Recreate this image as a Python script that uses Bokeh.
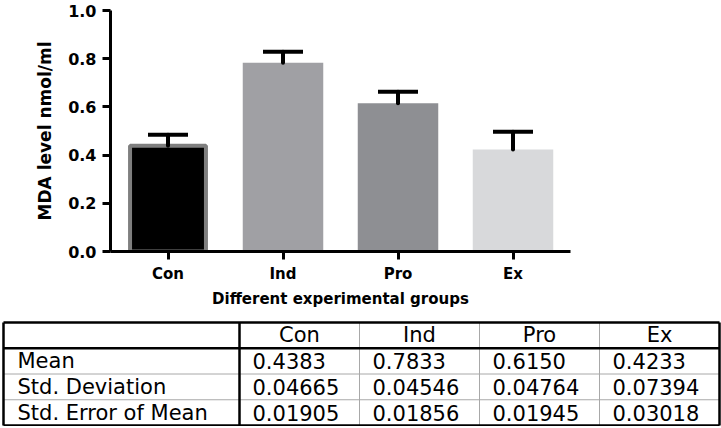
from bokeh.plotting import figure
from bokeh.models import (ColumnDataSource, Whisker, TeeHead, FactorRange, Range1d,
                          FixedTicker, NumeralTickFormatter)
from bokeh.layouts import column
from bokeh.embed import file_html
from bokeh.resources import INLINE
from bokeh.core.properties import value

# ---------------- data ----------------
groups = ["Con", "Ind", "Pro", "Ex"]
means = [0.4383, 0.7833, 0.6150, 0.4233]
std_devs = [0.04665, 0.04546, 0.04764, 0.07394]
std_errs = [0.01905, 0.01856, 0.01945, 0.03018]
y_ticks = [0.0, 0.2, 0.4, 0.6, 0.8, 1.0]
row_labels = ["Mean", "Std. Deviation", "Std. Error of Mean"]
bar_colors = ["#000000", "#a0a0a4", "#8e8f93", "#d8d9db"]
bar_outline = ["#7f7f7f", "#a0a0a4", "#8e8f93", "#d8d9db"]
outline_alpha = [1, 0, 0, 0]
bar_widths = [0.66, 0.7, 0.7, 0.7]

W = 721
H1 = 312
H2 = 114
FONT = "DejaVu Sans"

# ---------------- bar chart ----------------
p = figure(width=W, height=H1,
           x_range=FactorRange(*groups), y_range=Range1d(0, 1),
           output_backend="svg", toolbar_location=None,
           min_border_left=110, min_border_right=151,
           min_border_top=10, min_border_bottom=61)
p.frame_align = False
p.outline_line_color = None
p.xgrid.visible = False
p.ygrid.visible = False

src = ColumnDataSource(dict(
    g=groups, m=means, sd=std_devs,
    upper=[m + s for m, s in zip(means, std_devs)],
    color=bar_colors, lc=bar_outline, la=outline_alpha, w=bar_widths,
))

p.vbar(x="g", top="m", bottom=0, width="w", source=src,
       fill_color="color", line_color="lc", line_alpha="la", line_width=4)

wh = Whisker(source=src, base="g", lower="m", upper="upper", dimension="height",
             line_width=4, line_color="black", line_cap="round",
             lower_head=None,
             upper_head=TeeHead(size=40, line_width=4, line_color="black"),
             level="overlay")
p.add_layout(wh)

for ax in (p.xaxis, p.yaxis):
    ax.axis_line_width = 3
    ax.axis_line_color = "black"
    ax.major_tick_line_width = 3
    ax.major_tick_line_color = "black"
    ax.major_tick_in = 0
    ax.major_tick_out = 8
    ax.minor_tick_line_color = None
    ax.major_label_text_font = FONT
    ax.major_label_text_font_style = "bold"
    ax.major_label_text_color = "black"
    ax.axis_label_text_font = FONT
    ax.axis_label_text_font_style = "bold"
    ax.axis_label_text_color = "black"

p.yaxis.ticker = FixedTicker(ticks=y_ticks)
p.yaxis.formatter = NumeralTickFormatter(format="0.0")
p.yaxis.major_label_text_font_size = "16px"
p.yaxis.major_label_standoff = 6
p.yaxis.axis_label = "MDA level nmol/ml"
p.yaxis.axis_label_text_font_size = "17px"
p.yaxis.axis_label_standoff = 10

p.xaxis.major_label_text_font_size = "15px"
p.xaxis.major_label_standoff = 5
p.xaxis.axis_label = "Different experimental groups"
p.xaxis.axis_label_text_font_size = "15px"
p.xaxis.axis_label_standoff = 4

# ---------------- statistics table ----------------
t = figure(width=W, height=H2, x_range=Range1d(0, W), y_range=Range1d(H2, 0),
           output_backend="svg", toolbar_location=None, min_border=0,
           x_axis_type=None, y_axis_type=None)
t.frame_align = False
t.outline_line_color = None
t.xgrid.visible = False
t.ygrid.visible = False

left = 3
first_w = 236
col_w = 120
top = 10
row_h = 25.75
x_edges = [left, left + first_w] + [left + first_w + col_w * (i + 1) for i in range(len(groups))]
y_edges = [top + row_h * i for i in range(len(row_labels) + 2)]
right = x_edges[-1]
bottom = y_edges[-1]

# thin grey separators
t.segment(x0=x_edges[2:-1], y0=[top] * 3, x1=x_edges[2:-1], y1=[bottom] * 3,
          line_color="#a8a8a8", line_width=1)
t.segment(x0=[left] * 2, y0=y_edges[2:4], x1=[right] * 2, y1=y_edges[2:4],
          line_color="#a8a8a8", line_width=1)
# thick black lines
t.segment(x0=[left, left, left, left, right, x_edges[1]],
          y0=[top, bottom, y_edges[1], top, top, top],
          x1=[right, right, right, left, right, x_edges[1]],
          y1=[top, bottom, y_edges[1], bottom, bottom, bottom],
          line_color="black", line_width=2.5)

col_centers = [(x_edges[i + 1] + x_edges[i + 2]) / 2 for i in range(len(groups))]
FS = "21px"

t.text(x=col_centers, y=[(y_edges[0] + y_edges[1]) / 2] * len(groups),
       text=groups, text_align="center", text_baseline="middle",
       text_font=value(FONT), text_font_size=FS, text_color="black")

row_y = [(y_edges[i + 1] + y_edges[i + 2]) / 2 for i in range(len(row_labels))]
t.text(x=[left + 14] * len(row_labels), y=row_y, text=row_labels,
       text_align="left", text_baseline="middle",
       text_font=value(FONT), text_font_size=FS, text_color="black")

cell_x, cell_y, cell_t = [], [], []
for r, (vals, fmt) in enumerate([(means, "{:.4f}"), (std_devs, "{:.5f}"), (std_errs, "{:.5f}")]):
    for c, v in enumerate(vals):
        cell_x.append(x_edges[c + 1] + 13)
        cell_y.append(row_y[r])
        cell_t.append(fmt.format(v))
t.text(x=cell_x, y=cell_y, text=cell_t, text_align="left", text_baseline="middle",
       text_font=value(FONT), text_font_size=FS, text_color="black")

layout = column(p, t)
open("out.html", "w").write(file_html(layout, INLINE))
